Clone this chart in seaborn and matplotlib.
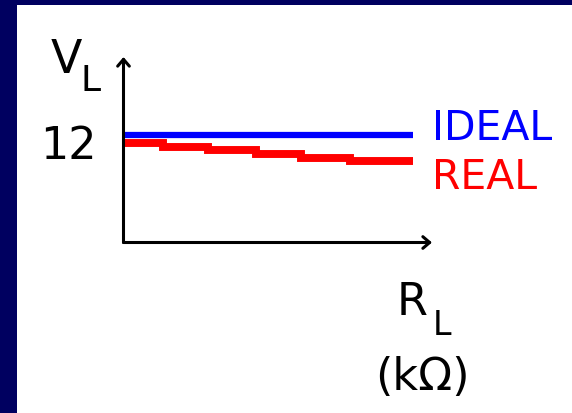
import matplotlib
matplotlib.use("Agg")
import matplotlib.pyplot as plt
import pandas as pd
import seaborn as sns
from matplotlib.patches import Rectangle

# load resistance R_L (kOhm) and load voltage V_L (V)
ideal_rl = [0.0, 9.38]
ideal_vl = [12.0, 12.0]
real_rl = [0.0, 1.28, 2.74, 4.30, 5.75, 7.34, 9.38]
real_vl = [11.1, 10.7, 10.3, 9.88, 9.43, 9.05, 9.05]

W, H = 572, 414
navy = "#000060"


def fx(px):
    return px / W


def fy(py):
    return 1 - py / H


sns.set_theme(style="white")
plt.rcParams["font.family"] = ["DejaVu Sans"]
plt.rcParams["text.color"] = "black"

fig = plt.figure(figsize=(W / 100, H / 100), dpi=100, facecolor="white")
# navy frame on the left and top edges
fig.patches.append(Rectangle((0, 0), fx(16.7), 1, transform=fig.transFigure,
                             facecolor=navy, edgecolor="none", zorder=0))
fig.patches.append(Rectangle((0, fy(6)), 1, 6 / H, transform=fig.transFigure,
                             facecolor=navy, edgecolor="none", zorder=0))

x0, y0, x1, y1 = 123.5, 243.5, 432, 58
ax = fig.add_axes([fx(x0), fy(y0), (x1 - x0) / W, (y0 - y1) / H])
ax.set_facecolor("none")

df_ideal = pd.DataFrame({"RL": ideal_rl, "VL": ideal_vl})
df_real = pd.DataFrame({"RL": real_rl, "VL": real_vl})
sns.lineplot(data=df_ideal, x="RL", y="VL", ax=ax, color="#0000ff", lw=4.5,
             estimator=None, sort=False, solid_capstyle="butt")
sns.lineplot(data=df_real, x="RL", y="VL", ax=ax, color="#ff0000", lw=5.7,
             estimator=None, sort=False, drawstyle="steps-post",
             solid_capstyle="butt", solid_joinstyle="miter")
ax.set_xlim(0, 10)
ax.set_ylim(0, 20.7)
ax.axis("off")

# axes drawn as arrows
arrow = dict(arrowstyle="->,head_length=0.35,head_width=0.3", color="black",
             lw=2.2, shrinkA=0, shrinkB=0, mutation_scale=14)
ax.annotate("", xy=(0, 1), xytext=(0, 0), xycoords="axes fraction",
            arrowprops=arrow, annotation_clip=False)
ax.annotate("", xy=(1, 0), xytext=(0, 0), xycoords="axes fraction",
            arrowprops=arrow, annotation_clip=False)

fig.text(fx(68.5), fy(159), "12", fontsize=32, ha="center", va="baseline")
fig.text(fx(66), fy(73), "V", fontsize=33, ha="center", va="baseline")
fig.text(fx(91), fy(91), "L", fontsize=26, ha="center", va="baseline")
fig.text(fx(432), fy(140), "IDEAL", fontsize=29.5, color="#0000ff",
         ha="left", va="baseline")
fig.text(fx(432), fy(189), "REAL", fontsize=29.5, color="#ff0000",
         ha="left", va="baseline")
fig.text(fx(412.5), fy(315), "R", fontsize=32, ha="center", va="baseline")
fig.text(fx(442.5), fy(335), "L", fontsize=24, ha="center", va="baseline")
fig.text(fx(422.5), fy(390), "(kΩ)", fontsize=32, ha="center", va="baseline")

fig.savefig("out.png", dpi=100, facecolor=fig.get_facecolor())
